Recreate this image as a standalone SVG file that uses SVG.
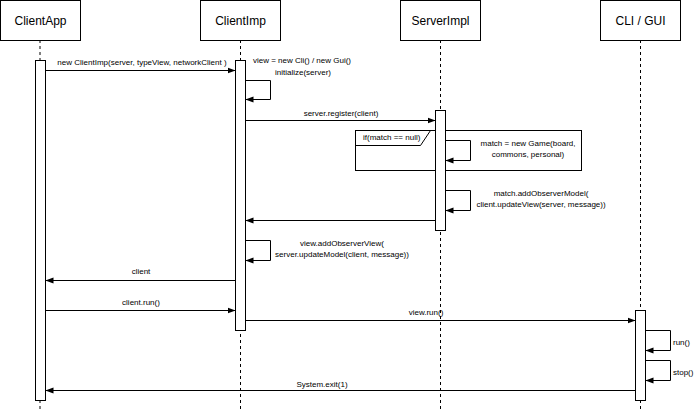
<svg xmlns="http://www.w3.org/2000/svg" width="694" height="411" viewBox="0 0 694 411">
<style>
.box{fill:#fff;stroke:#000;stroke-width:1}
.life{stroke:#000;stroke-width:1;stroke-dasharray:3 3;fill:none}
.act{fill:#fff;stroke:#000;stroke-width:1}
.msg{stroke:#000;stroke-width:1;fill:none;marker-end:url(#arr)}
.hd{font-family:"Liberation Sans",Arial,sans-serif;font-size:12px;text-anchor:middle;fill:#000}
.lb{font-family:"Liberation Sans",Arial,sans-serif;font-size:8px;fill:#000}
.c{text-anchor:middle}
.frame{fill:none;stroke:#000;stroke-width:1}
</style>
<defs>
<marker id="arr" viewBox="0 0 8 8" refX="8" refY="4" markerWidth="8" markerHeight="8" markerUnits="userSpaceOnUse" orient="auto">
<path d="M0,1 L8,4 L0,7 Z" fill="#000"/>
</marker>
</defs>
<rect width="694" height="411" fill="#fff"/>

<g id="ClientApp">
<line class="life" x1="40" y1="40" x2="40" y2="411"/>
<rect class="box" x="0.5" y="0.5" width="80" height="40"/>
<text class="hd" x="40.5" y="25">ClientApp</text>
<rect class="act" x="35.5" y="60.5" width="10" height="340"/>
</g>

<g id="ClientImp">
<line class="life" x1="240.5" y1="40" x2="240.5" y2="411"/>
<rect class="box" x="200.5" y="0.5" width="80" height="40"/>
<text class="hd" x="240.5" y="25">ClientImp</text>
<rect class="act" x="235.5" y="60.5" width="10" height="270"/>
</g>

<g id="ServerImpl">
<line class="life" x1="440.5" y1="40" x2="440.5" y2="411"/>
<rect class="box" x="400.5" y="0.5" width="80" height="40"/>
<text class="hd" x="440.5" y="25">ServerImpl</text>
</g>

<g id="CLI_GUI">
<line class="life" x1="640.5" y1="40" x2="640.5" y2="411"/>
<rect class="box" x="600.5" y="0.5" width="80" height="40"/>
<text class="hd" x="640.5" y="25">CLI / GUI</text>
<rect class="act" x="635.5" y="310.5" width="10" height="90"/>
</g>

<g id="opt-frame">
<rect class="frame" x="355.5" y="130.5" width="226" height="40"/>
<path class="frame" d="M355.5,145.5 L420.5,145.5 L430.5,130.5"/>
<text class="lb" x="363" y="140">if(match == null)</text>
</g>

<g id="ServerImpl-activation">
<rect class="act" x="435.5" y="110.5" width="10" height="120"/>
</g>

<g id="connectors">
<line class="msg" x1="45.5" y1="70.5" x2="235.5" y2="70.5"/>
<path class="msg" d="M245.5,80.5 H270.5 V99.5 H245.5"/>
<line class="msg" x1="245.5" y1="120.5" x2="435.5" y2="120.5"/>
<path class="msg" d="M445.5,140.5 H470.5 V160.5 H445.5"/>
<path class="msg" d="M445.5,190.5 H470.5 V210.5 H445.5"/>
<line class="msg" x1="435.5" y1="220.5" x2="245.5" y2="220.5"/>
<path class="msg" d="M245.5,240.5 H270.5 V260.5 H245.5"/>
<line class="msg" x1="235.5" y1="280.5" x2="45.5" y2="280.5"/>
<line class="msg" x1="45.5" y1="310.5" x2="235.5" y2="310.5"/>
<line class="msg" x1="245.5" y1="320.5" x2="635.5" y2="320.5"/>
<path class="msg" d="M645.5,330.5 H670.5 V350.5 H645.5"/>
<path class="msg" d="M645.5,360.5 H670.5 V380.5 H645.5"/>
<line class="msg" x1="635.5" y1="390.5" x2="45.5" y2="390.5"/>
</g>

<g id="labels">
<text class="lb c" x="142" y="65">new ClientImp(server, typeView, networkClient )</text>
<text class="lb" x="253" y="63">view = new Cli() / new Gui()</text>
<text class="lb" x="275" y="75">initialize(server)</text>
<text class="lb c" x="341" y="116">server.register(client)</text>
<text class="lb c" x="528" y="146">match = new Game(board,</text>
<text class="lb c" x="528" y="157">commons, personal)</text>
<text class="lb c" x="541" y="196">match.addObserverModel(</text>
<text class="lb c" x="541" y="207">client.updateView(server, message))</text>
<text class="lb c" x="342" y="246">view.addObserverView(</text>
<text class="lb c" x="342" y="257">server.updateModel(client, message))</text>
<text class="lb c" x="141" y="274">client</text>
<text class="lb c" x="141" y="305">client.run()</text>
<text class="lb c" x="426" y="315">view.run()</text>
<text class="lb" x="673" y="345">run()</text>
<text class="lb" x="673" y="375">stop()</text>
<text class="lb c" x="322" y="387">System.exit(1)</text>
</g>
</svg>
